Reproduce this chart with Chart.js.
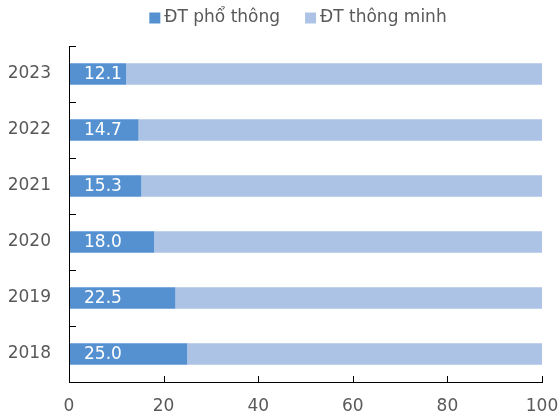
<!DOCTYPE html>
<html>
<head>
<meta charset="utf-8">
<script src="https://cdn.jsdelivr.net/npm/chart.js@4"></script>
<style>
  html, body { margin: 0; padding: 0; background: #fff; }
  #wrap { width: 559px; height: 420px; }
</style>
</head>
<body>
<div id="wrap"><canvas id="c" width="559" height="420"></canvas></div>
<script>
const years = ['2023', '2022', '2021', '2020', '2019', '2018'];
const featurePhone = [12.1, 14.7, 15.3, 18.0, 22.5, 25.0];
const smartPhone = [87.9, 85.3, 84.7, 82.0, 77.5, 75.0];
const xTicks = [0, 20, 40, 60, 80, 100];

const FONT = 'DejaVu Sans';
const TEXT = '#595959';
const FS = 17;

// white value labels placed just inside the base of the first series
const valueLabels = {
  id: 'valueLabels',
  afterDatasetsDraw(chart) {
    const ctx = chart.ctx;
    const meta = chart.getDatasetMeta(0);
    ctx.save();
    ctx.font = FS + 'px "' + FONT + '"';
    ctx.fillStyle = '#ffffff';
    ctx.textAlign = 'left';
    ctx.textBaseline = 'middle';
    meta.data.forEach((bar, i) => {
      ctx.fillText(featurePhone[i].toFixed(1), bar.base + 15, bar.y + 1);
    });
    ctx.restore();
  }
};

// axis lines plus short tick marks pointing into the plot area
const axisFrame = {
  id: 'axisFrame',
  afterDraw(chart) {
    const ctx = chart.ctx;
    const x = chart.scales.x;
    const a = chart.chartArea;
    const L = Math.round(a.left);
    const B = Math.round(a.bottom);
    const T = Math.round(a.top);
    const R = Math.round(a.right);
    ctx.save();
    ctx.fillStyle = '#000000';
    ctx.fillRect(L, T, 1, B - T + 1);          // vertical axis
    ctx.fillRect(L, B, R - L + 1, 1);          // horizontal axis
    xTicks.forEach(v => {
      const px = Math.round(x.getPixelForValue(v));
      ctx.fillRect(px, B - 6, 1, 6);
    });
    const step = (a.bottom - a.top) / years.length;
    for (let i = 0; i < years.length; i++) {
      const py = Math.round(a.top + i * step);
      ctx.fillRect(L, py, 7, 1);
    }
    ctx.restore();
  }
};

// legend row: square swatch followed by series name
const legendRow = {
  id: 'legendRow',
  afterDraw(chart) {
    const ctx = chart.ctx;
    const box = 11, gap = 4, itemGap = 25, cy = 18;
    ctx.save();
    ctx.font = FS + 'px "' + FONT + '"';
    ctx.textBaseline = 'middle';
    ctx.textAlign = 'left';
    const items = chart.data.datasets.map(ds => ({
      label: ds.label, color: ds.backgroundColor, w: ctx.measureText(ds.label).width
    }));
    let total = 0;
    items.forEach((it, i) => { total += box + gap + it.w + (i ? itemGap : 0); });
    let x = 298 - total / 2;
    items.forEach(it => {
      ctx.fillStyle = it.color;
      ctx.fillRect(x, cy - box / 2, box, box);
      ctx.fillStyle = TEXT;
      ctx.fillText(it.label, x + box + gap, cy);
      x += box + gap + it.w + itemGap;
    });
    ctx.restore();
  }
};

new Chart(document.getElementById('c'), {
  type: 'bar',
  data: {
    labels: years,
    datasets: [
      { label: 'ĐT phổ thông', data: featurePhone, backgroundColor: '#5591D1',
        barPercentage: 0.38, categoryPercentage: 1 },
      { label: 'ĐT thông minh', data: smartPhone, backgroundColor: '#ADC3E6',
        barPercentage: 0.38, categoryPercentage: 1 }
    ]
  },
  options: {
    indexAxis: 'y',
    responsive: false,
    animation: false,
    layout: { padding: { left: 0, right: 0, top: 46, bottom: 0 } },
    plugins: {
      legend: { display: false },
      tooltip: { enabled: false }
    },
    scales: {
      x: {
        stacked: true,
        min: 0,
        max: 100,
        afterBuildTicks(axis) { axis.ticks = xTicks.map(v => ({ value: v })); },
        grid: { display: false, drawTicks: false },
        border: { display: false },
        ticks: { font: { family: FONT, size: FS }, color: TEXT, padding: 14, maxRotation: 0 },
        afterFit(axis) {
          axis.height = 38;
          axis.paddingRight = 17;
          axis.paddingLeft = 6;
        }
      },
      y: {
        stacked: true,
        grid: { display: false, drawTicks: false },
        border: { display: false },
        ticks: { font: { family: FONT, size: FS }, color: TEXT, padding: 18 },
        afterFit(axis) { axis.width = 69; }
      }
    }
  },
  plugins: [valueLabels, axisFrame, legendRow]
});
</script>
</body>
</html>
